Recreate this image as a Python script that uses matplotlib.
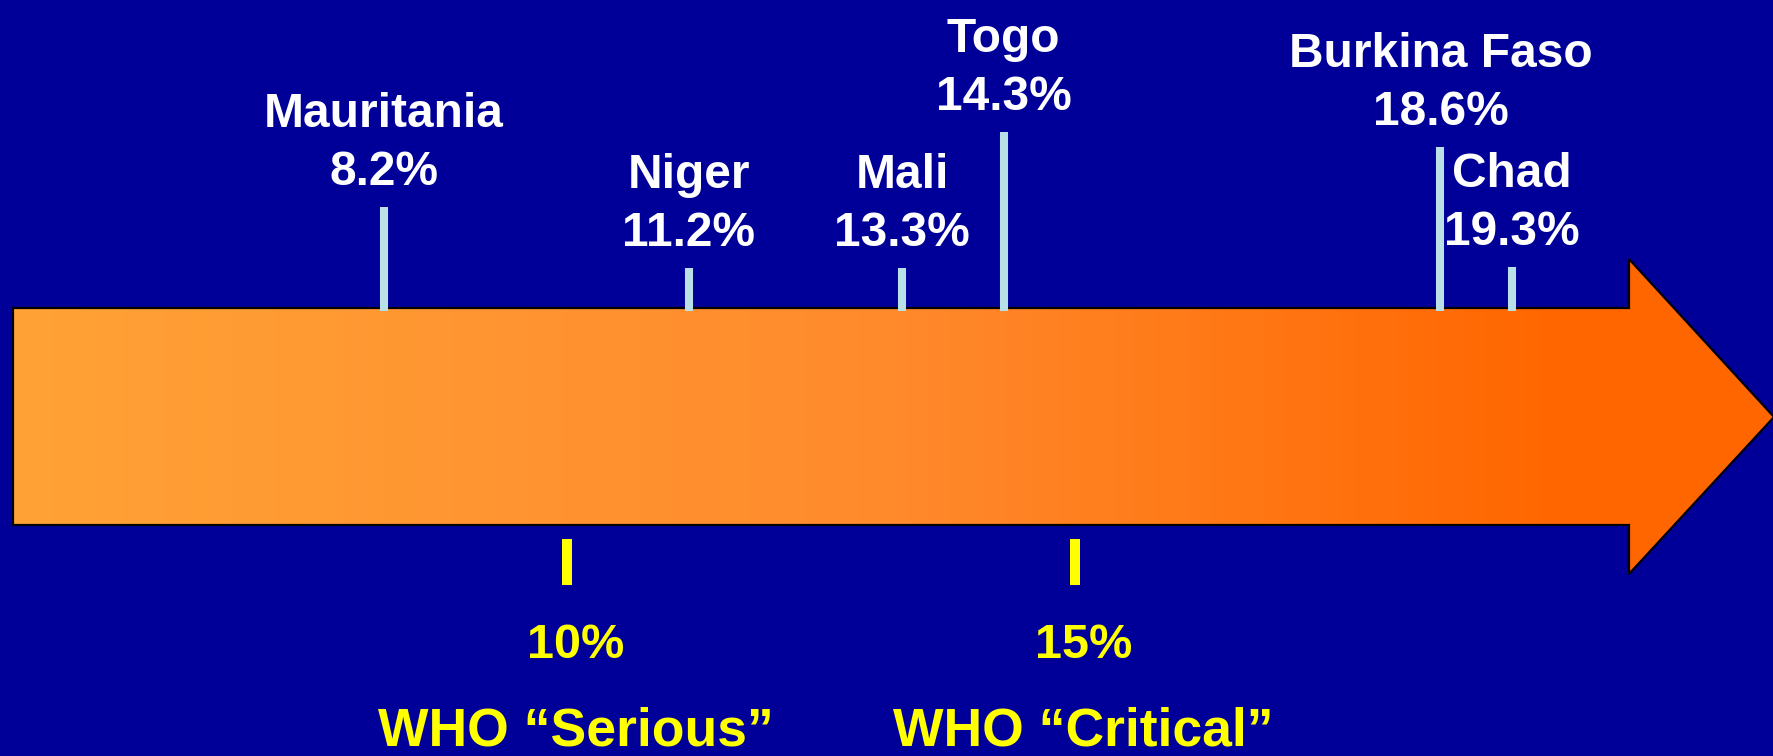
import numpy as np
import matplotlib.pyplot as plt
from matplotlib.patches import Polygon
from matplotlib.colors import LinearSegmentedColormap

plt.rcParams['font.family'] = ['Liberation Sans', 'DejaVu Sans']
plt.rcParams['font.weight'] = 'bold'

countries = ['Mauritania', 'Niger', 'Mali', 'Togo', 'Burkina Faso', 'Chad']
prevalence = [8.2, 11.2, 13.3, 14.3, 18.6, 19.3]
thresholds = [10, 15]
threshold_names = ['WHO \u201cSerious\u201d', 'WHO \u201cCritical\u201d']

# slide layout, pixels from the top
stem_top = [207, 268, 268, 132, 147, 267]
W, H = 1774, 756
bg_col = '#000099'

fig = plt.figure(figsize=(W / 100, H / 100), dpi=100, facecolor=bg_col)

# decoration layer: the big orange arrow (pixel coords)
bg = fig.add_axes([0, 0, 1, 1])
bg.axis('off')
arrow_pts = [(13, 308), (1629, 308), (1629, 259), (1774, 417),
             (1629, 574), (1629, 525), (13, 525)]
clip = Polygon(arrow_pts, closed=True, facecolor='none', edgecolor='none')
bg.add_patch(clip)
cmap = LinearSegmentedColormap.from_list(
    'orng', [(0, '#FFA236'), (0.5, '#FF8A2C'), (0.88, '#FF6600'), (1, '#FF6600')])
grad = np.linspace(0, 1, 512)[None, :]
im = bg.imshow(grad, cmap=cmap, extent=[13, 1774, 580, 255], aspect='auto')
im.set_clip_path(clip)
bg.add_patch(Polygon(arrow_pts, closed=True, facecolor='none',
                     edgecolor='black', linewidth=1.6, joinstyle='miter'))
bg.set_xlim(0, W)
bg.set_ylim(H, 0)

# data layer: x in percent, y in pixels from top
ax = fig.add_axes([0, 0, 1, 1])
ax.set_xlim(4.422, 21.883)
ax.set_ylim(H, 0)
ax.patch.set_visible(False)
ax.axis('off')

ax.vlines(prevalence, stem_top, 311, colors='#B8E0E6', linewidth=5.8,
          capstyle='butt')
for name, v, top in zip(countries, prevalence, stem_top):
    ax.text(v, top - 22, f'{v}%', ha='center', va='baseline',
            color='white', fontsize=34.5, fontweight='bold')
    ax.text(v, top - 80, name, ha='center', va='baseline',
            color='white', fontsize=34.5, fontweight='bold')

ax.vlines(thresholds, 539, 585, colors='#FFFF00', linewidth=7.2,
          capstyle='butt')
for t, lab in zip(thresholds, threshold_names):
    ax.annotate(f'{t}%', (t, 658), xytext=(9, 0), textcoords='offset pixels',
                ha='center', va='baseline', color='#FFFF00', fontsize=35,
                fontweight='bold')
    ax.annotate(lab, (t, 745), xytext=(9, 0), textcoords='offset pixels',
                ha='center', va='baseline', color='#FFFF00', fontsize=38.5,
                fontweight='bold')

fig.savefig('out.png', dpi=100, facecolor=bg_col)
